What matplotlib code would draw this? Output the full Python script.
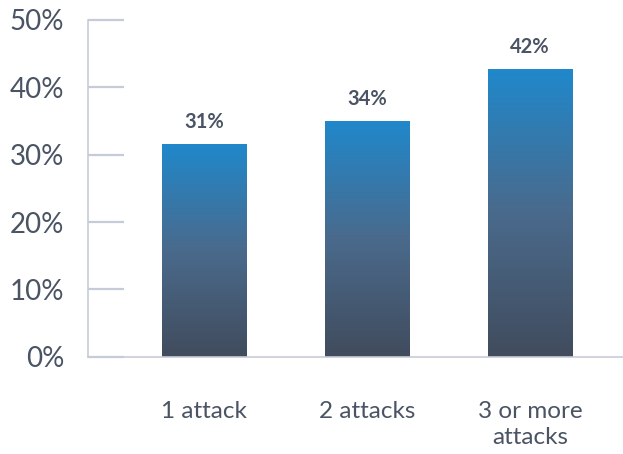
import matplotlib
matplotlib.use('Agg')
import matplotlib.pyplot as plt
import numpy as np
from matplotlib.colors import LinearSegmentedColormap
from matplotlib.ticker import FuncFormatter

plt.rcParams['font.family'] = ['Lato', 'DejaVu Sans']

categories = ['1 attack', '2 attacks', '3 or more\nattacks']
values = [31.5, 35.0, 42.7]
labels = ['31%', '34%', '42%']
yticks = [0, 10, 20, 30, 40, 50]

text_color = '#4a5464'
axis_color = '#c6ccd7'
cmap = LinearSegmentedColormap.from_list('bar', ['#414c5d', '#4a6a8c', '#2088cb'])

fig = plt.figure(figsize=(6.23, 4.54), dpi=100, facecolor='white')
ax = fig.add_axes([88 / 623, 1 - 356.7 / 454, 1 - 88 / 623, 336.7 / 454])

x = np.arange(len(categories))
width = 0.515
bars = ax.bar(x, values, width=width, color='none', edgecolor='none')

# vertical gradient per bar
grad = np.linspace(0, 1, 256).reshape(-1, 1)
for b in bars:
    x0, w, h = b.get_x(), b.get_width(), b.get_height()
    ax.imshow(grad, extent=(x0, x0 + w, 0, h), origin='lower', cmap=cmap,
              aspect='auto', zorder=2)

for xi, v, lab in zip(x, values, labels):
    ax.annotate(lab, (xi, v), xytext=(0, 9), textcoords='offset points',
                ha='center', va='bottom', fontsize=14.5, fontweight='bold',
                color=text_color)

ax.set_xlim(-0.71, 2.57)
ax.set_ylim(0, 50)
ax.set_xticks(x)
ax.set_xticklabels(categories, fontsize=17.5, color=text_color, linespacing=1.3)
ax.set_yticks(yticks)
ax.yaxis.set_major_formatter(FuncFormatter(lambda v, p: f'{v:.0f}%'))

ax.tick_params(axis='x', length=0, pad=32)
ax.tick_params(axis='y', direction='in', length=26, width=1.6, color=axis_color,
               labelsize=20, labelcolor=text_color, pad=17)

for s in ['top', 'right']:
    ax.spines[s].set_visible(False)
for s in ['left', 'bottom']:
    ax.spines[s].set_color(axis_color)
    ax.spines[s].set_linewidth(1.2)
ax.set_axisbelow(False)

fig.savefig('out.png', dpi=100, facecolor='white')
